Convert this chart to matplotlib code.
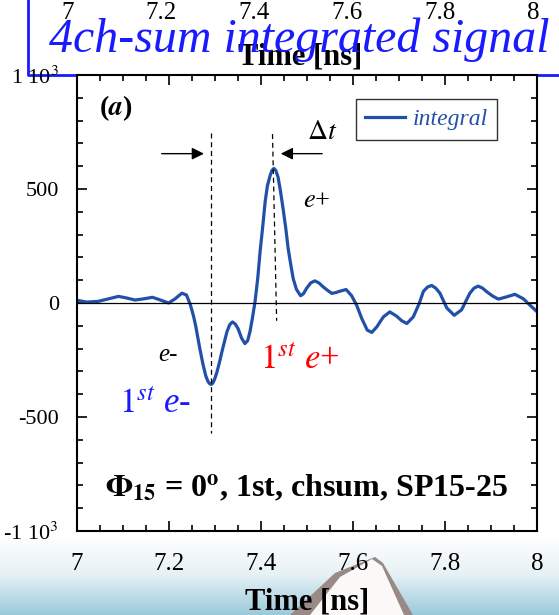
import numpy as np
import matplotlib.pyplot as plt
from matplotlib.patches import Polygon

plt.rcParams['font.family'] = ['Liberation Serif', 'DejaVu Serif']
plt.rcParams['mathtext.fontset'] = 'stix'

# signal (time in ns, amplitude)
time_ns = [7.000, 7.021, 7.046, 7.068, 7.090, 7.108, 7.126, 7.144, 7.164, 7.180,
           7.199, 7.213, 7.228, 7.238, 7.246, 7.253, 7.258, 7.267, 7.274, 7.280,
           7.285, 7.289, 7.292, 7.295, 7.299, 7.304, 7.310, 7.315, 7.326, 7.332,
           7.338, 7.344, 7.350, 7.358, 7.365, 7.371, 7.376, 7.381, 7.387, 7.393,
           7.398, 7.404, 7.409, 7.414, 7.420, 7.424, 7.428, 7.432, 7.437, 7.442,
           7.448, 7.454, 7.459, 7.465, 7.470, 7.477, 7.486, 7.492, 7.499, 7.508,
           7.517, 7.526, 7.535, 7.545, 7.554, 7.563, 7.572, 7.585, 7.597, 7.608,
           7.619, 7.631, 7.641, 7.652, 7.666, 7.680, 7.695, 7.706, 7.717, 7.731,
           7.744, 7.753, 7.762, 7.771, 7.780, 7.789, 7.804, 7.820, 7.836, 7.854,
           7.863, 7.872, 7.881, 7.891, 7.904, 7.916, 7.934, 7.952, 7.970, 7.985,
           8.000]
signal = [12, 4, 7, 18, 29, 22, 13, 18, 25, 14,
          0, 18, 43, 35, -5, -55, -100, -200, -270, -320,
          -345, -355, -357, -352, -335, -305, -258, -214, -126, -95,
          -83, -92, -112, -155, -178, -165, -126, -70, 5, 110,
          225, 340, 444, 515, 560, 582, 590, 582, 553, 495,
          414, 325, 239, 165, 107, 60, 32, 40, 64, 88,
          97, 88, 71, 55, 42, 46, 52, 59, 32, -10,
          -68, -119, -129, -104, -61, -39, -58, -78, -90, -61,
          -2, 51, 70, 77, 65, 43, -22, -54, -30, 43,
          65, 74, 66, 49, 30, 17, 27, 38, 19, -10,
          -38]

x_ticks = [7, 7.2, 7.4, 7.6, 7.8, 8]
x_labels = ['7', '7.2', '7.4', '7.6', '7.8', '8']
y_ticks = [-1000, -500, 0, 500, 1000]
y_labels = [r'-1 10$^3$', '-500', '0', '500', r'1 10$^3$']

# markers: dashed lines at the 1st e- and 1st e+ peaks
t_eminus = [7.291, 7.291]
v_eminus = [746, -570]
t_eplus = [7.425, 7.434]
v_eplus = [741, -78]

blue = '#2150a8'

fig = plt.figure(figsize=(5.59, 6.15), dpi=100)

# background decoration
bg = fig.add_axes([0, 0, 1, 1], zorder=-10)
bg.set_xlim(0, 559)
bg.set_ylim(615, 0)
bg.axis('off')
grad = np.linspace(0, 1, 100)[:, None]
cmap = plt.matplotlib.colors.LinearSegmentedColormap.from_list('sky', ['#ffffff', '#e6f1f5', '#9ccadb'])
bg.imshow(grad, cmap=cmap, extent=[0, 559, 615, 535], aspect='auto')
bg.add_patch(Polygon([[290, 615], [335, 573], [375, 557], [383, 563], [413, 615]],
                     closed=True, fc='#9a8a86', ec='none'))
bg.add_patch(Polygon([[310, 615], [340, 577], [372, 559], [382, 566], [404, 615]],
                     closed=True, fc='#fbf8f8', ec='none'))
bg.plot([28, 28, 559], [0, 75, 75], color='#1a1aff', lw=2)

# ghost top axis (tick labels and label partly hidden by title)
top = fig.add_axes([68 / 559, 1 - 1 / 615, 465 / 559, 0.001])
top.set_xlim(7, 8)
top.set_xticks(x_ticks)
top.set_xticklabels(x_labels, fontsize=18)
top.tick_params(length=0, pad=1)
top.set_yticks([])
for s in top.spines.values():
    s.set_visible(False)
top.patch.set_alpha(0)
top.set_xlabel('Time [ns]', fontsize=22, fontweight='bold', labelpad=13)

fig.text(0.535, 1 - 40 / 615, '4ch-sum integrated signal', color='#1a1aff', fontsize=34.5,
         style='italic', ha='center', va='center')

ax = fig.add_axes([77 / 559, 1 - 531 / 615, 460 / 559, 456 / 615])
ax.plot(time_ns, signal, color=blue, lw=2.3, label='integral', solid_joinstyle='round')
ax.axhline(0, color='black', lw=0.9)
ax.plot(t_eminus, v_eminus, 'k--', lw=0.9, dashes=(4, 3))
ax.plot(t_eplus, v_eplus, 'k--', lw=0.9, dashes=(4, 3))

ax.annotate('', xy=(7.282, 655), xytext=(7.178, 655),
            arrowprops=dict(arrowstyle='-|>', color='black', lw=1, mutation_scale=18))
ax.annotate('', xy=(7.437, 655), xytext=(7.539, 655),
            arrowprops=dict(arrowstyle='-|>', color='black', lw=1, mutation_scale=18))
ax.text(7.532, 746, r'$\Delta t$', fontsize=20, ha='center', va='center')
ax.text(7.52, 447, r'$e$+', fontsize=19, ha='center', va='center')
ax.text(7.198, -227, 'e-', fontsize=18, style='italic', ha='center', va='center')
ax.text(7.17, -446, r'$\mathit{1}^{\mathit{st}}$ e-', fontsize=25, style='italic', color='#1a1aff',
        ha='center', va='center')
ax.text(7.485, -254, r'$\mathit{1}^{\mathit{st}}$ $e$+', fontsize=25, color='red',
        ha='center', va='center')
ax.text(7.085, 855, r'($\mathbfit{a}$)', fontsize=20, fontweight='bold', ha='center', va='center')
ax.text(7.5, -811, r'$\mathbf{\Phi}_{\mathbf{15}}$ = 0$^{\mathbf{o}}$, 1st, chsum, SP15-25',
        fontsize=23, fontweight='bold', ha='center', va='center')

leg = ax.legend(loc='upper right', bbox_to_anchor=(0.913, 0.947), borderaxespad=0, fontsize=17,
                frameon=True, fancybox=False, edgecolor='black', handlelength=1.7,
                borderpad=0.4, handletextpad=0.3)
leg.get_frame().set_linewidth(1)
for txt in leg.get_texts():
    txt.set_color(blue)
    txt.set_style('italic')

ax.set_xlim(7, 8)
ax.set_ylim(-1000, 1000)
ax.set_xticks(x_ticks)
ax.set_xticklabels(x_labels, fontsize=18)
ax.set_yticks(y_ticks)
ax.set_yticklabels(y_labels, fontsize=16)
ax.set_xticks(np.arange(7, 8.001, 0.05), minor=True)
ax.set_yticks(np.arange(-1000, 1001, 100), minor=True)
ax.tick_params(which='both', direction='in', top=True, right=True, width=1.2)
ax.tick_params(which='major', length=7)
ax.tick_params(axis='x', which='major', pad=16)
ax.tick_params(axis='y', which='major', pad=13)
ax.tick_params(which='minor', length=4)
for s in ax.spines.values():
    s.set_linewidth(1.5)
ax.set_xlabel('Time [ns]', fontsize=22, fontweight='bold', labelpad=9)

fig.savefig('out.png', dpi=100)
